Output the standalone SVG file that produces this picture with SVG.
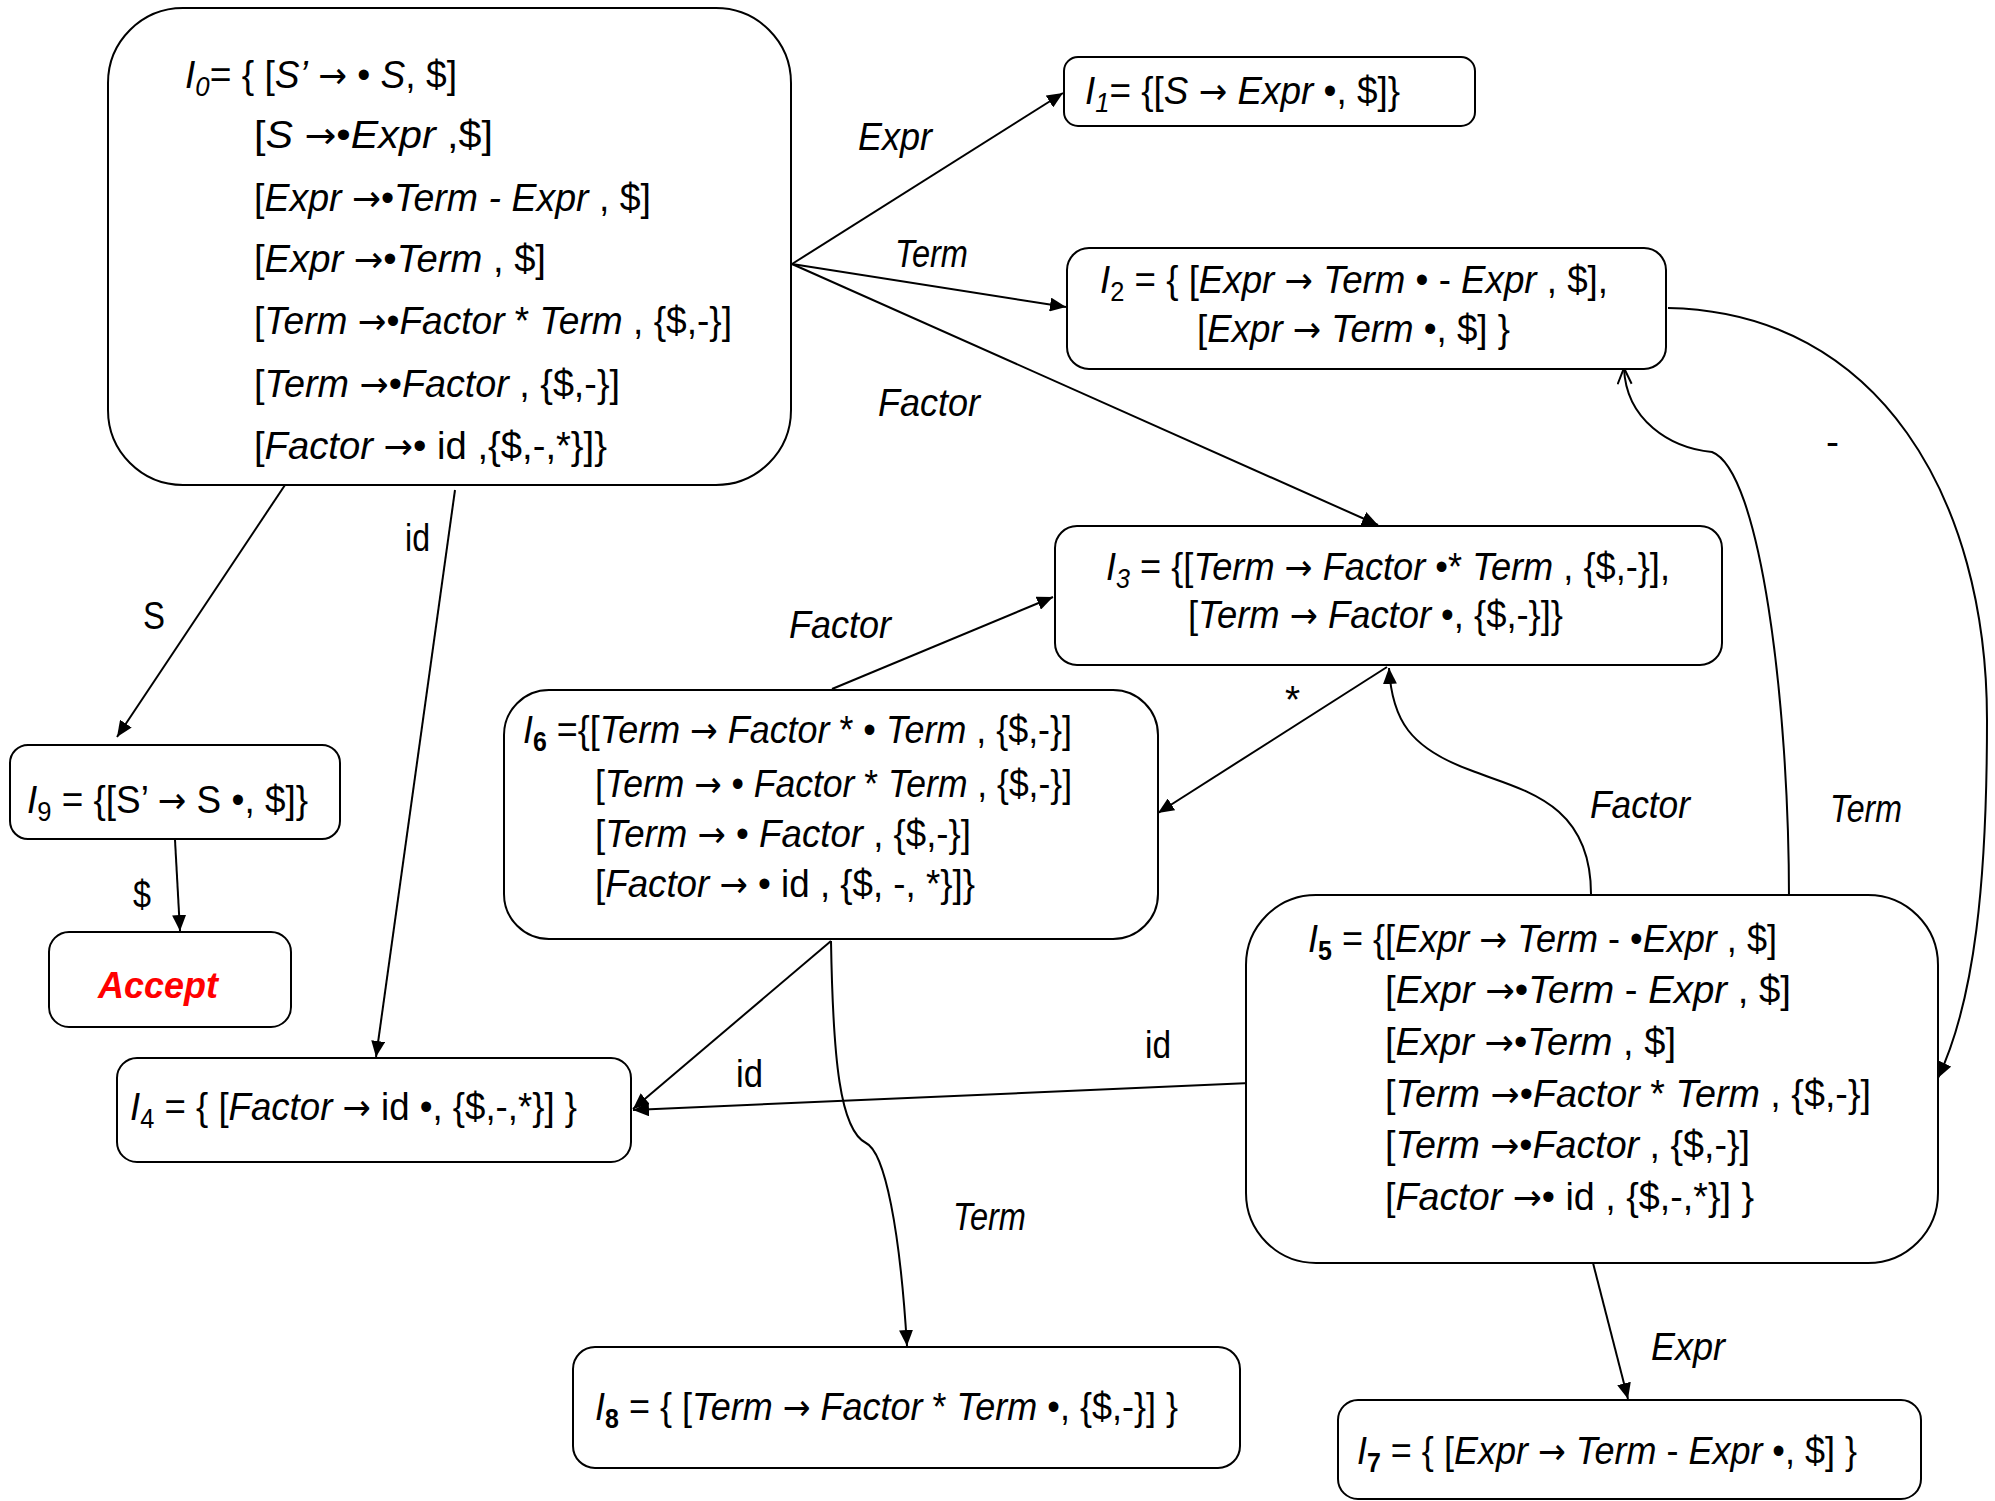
<svg xmlns="http://www.w3.org/2000/svg" width="1995" height="1501" viewBox="0 0 1995 1501">
<style>
.box{fill:#fff;stroke:#000;stroke-width:2}
.t{font-family:"Liberation Sans",Arial,sans-serif;font-size:39px;fill:#000}
.i{font-style:italic}
.a{font-family:"DejaVu Sans",sans-serif;font-weight:normal;font-style:normal;font-size:36px}
.sub{font-size:27px}
.b{font-weight:bold}
.e{fill:none;stroke:#000;stroke-width:2}
.acc{font-family:"Liberation Sans",Arial,sans-serif;font-size:37px;font-weight:bold;font-style:italic;fill:#ff0000}
</style>
<defs>
<marker id="ah" viewBox="0 0 16 14" refX="16" refY="7" markerWidth="16" markerHeight="14" markerUnits="userSpaceOnUse" orient="auto"><path d="M0,0 L16,7 L0,14 z" fill="#000"/></marker>
<marker id="ao" viewBox="0 0 18 16" refX="17" refY="8" markerWidth="18" markerHeight="16" markerUnits="userSpaceOnUse" orient="auto"><path d="M1,1 L17,8 L1,15" fill="none" stroke="#000" stroke-width="2"/></marker>
</defs>
<rect width="1995" height="1501" fill="#fff"/>

<g id="connectors">
<path class="e" d="M792,264 L1063,93" marker-end="url(#ah)"/>
<path class="e" d="M792,264 L1066,307" marker-end="url(#ah)"/>
<path class="e" d="M792,264 L1378,525" marker-end="url(#ah)"/>
<path class="e" d="M285,485 L117,737" marker-end="url(#ah)"/>
<path class="e" d="M455,490 L376,1057" marker-end="url(#ah)"/>
<path class="e" d="M175,840 L180,931" marker-end="url(#ah)"/>
<path class="e" d="M832,689 L1053,597" marker-end="url(#ah)"/>
<path class="e" d="M1387,667 L1158,813" marker-end="url(#ah)"/>
<path class="e" d="M831,941 L633,1109" marker-end="url(#ah)"/>
<path class="e" d="M1250,1083 L633,1110" marker-end="url(#ah)"/>
<path class="e" d="M831,941 C833,1060 840,1130 866,1143 C885,1152 900,1230 907,1346" marker-end="url(#ah)"/>
<path class="e" d="M1591,894 C1591,800 1520,790 1470,770 C1410,748 1392,720 1389,668" marker-end="url(#ah)"/>
<path class="e" d="M1789,899 C1789,700 1760,470 1712,452 C1670,448 1626,420 1624,368" marker-end="url(#ao)"/>
<path class="e" d="M1668,308 C1880,312 1987,500 1987,720 C1987,880 1975,1000 1938,1078" marker-end="url(#ah)"/>
<path class="e" d="M1593,1263 L1628,1399" marker-end="url(#ah)"/>

<text class="t i" x="858" y="150" textLength="74" lengthAdjust="spacingAndGlyphs">Expr</text>
<text class="t i" x="895" y="267" textLength="73" lengthAdjust="spacingAndGlyphs">Term</text>
<text class="t i" x="878" y="416" textLength="102" lengthAdjust="spacingAndGlyphs">Factor</text>
<text class="t" x="143" y="629" textLength="22" lengthAdjust="spacingAndGlyphs">S</text>
<text class="t" x="405" y="551" textLength="25" lengthAdjust="spacingAndGlyphs">id</text>
<text class="t" x="133" y="908" textLength="18" lengthAdjust="spacingAndGlyphs">$</text>
<text class="t i" x="789" y="638" textLength="102" lengthAdjust="spacingAndGlyphs">Factor</text>
<text class="t" x="1285" y="713">*</text>
<text class="t" x="736" y="1087" textLength="27" lengthAdjust="spacingAndGlyphs">id</text>
<text class="t" x="1145" y="1058" textLength="26" lengthAdjust="spacingAndGlyphs">id</text>
<text class="t i" x="953" y="1230" textLength="73" lengthAdjust="spacingAndGlyphs">Term</text>
<text class="t" x="1826" y="455">-</text>
<text class="t i" x="1590" y="818" textLength="100" lengthAdjust="spacingAndGlyphs">Factor</text>
<text class="t i" x="1830" y="822" textLength="72" lengthAdjust="spacingAndGlyphs">Term</text>
<text class="t i" x="1651" y="1360" textLength="74" lengthAdjust="spacingAndGlyphs">Expr</text>
</g>

<g id="I0">
<rect class="box" x="108" y="8" width="683" height="477" rx="75" ry="75"/>
<text class="t" x="185" y="88" textLength="272" lengthAdjust="spacingAndGlyphs"><tspan class="i">I</tspan><tspan class="i sub" dy="8">0</tspan><tspan dy="-8">= { [</tspan><tspan class="i">S’</tspan> <tspan class="a">→</tspan> • <tspan class="i">S</tspan>, $]</text>
<text class="t" x="254" y="148" textLength="239" lengthAdjust="spacingAndGlyphs">[<tspan class="i">S</tspan>  <tspan class="a">→</tspan>•<tspan class="i">Expr</tspan> ,$]</text>
<text class="t" x="254" y="211" textLength="397" lengthAdjust="spacingAndGlyphs">[<tspan class="i">Expr</tspan> <tspan class="a">→</tspan>•<tspan class="i">Term - Expr</tspan> , $]</text>
<text class="t" x="254" y="272" textLength="292" lengthAdjust="spacingAndGlyphs">[<tspan class="i">Expr</tspan> <tspan class="a">→</tspan>•<tspan class="i">Term</tspan> , $]</text>
<text class="t" x="254" y="334" textLength="478" lengthAdjust="spacingAndGlyphs">[<tspan class="i">Term</tspan> <tspan class="a">→</tspan>•<tspan class="i">Factor</tspan> * <tspan class="i">Term</tspan> , {$,-}]</text>
<text class="t" x="254" y="397" textLength="366" lengthAdjust="spacingAndGlyphs">[<tspan class="i">Term</tspan> <tspan class="a">→</tspan>•<tspan class="i">Factor</tspan> , {$,-}]</text>
<text class="t" x="254" y="459" textLength="353" lengthAdjust="spacingAndGlyphs">[<tspan class="i">Factor</tspan> <tspan class="a">→</tspan>• id ,{$,-,*}]}</text>
</g>

<g id="I1">
<rect class="box" x="1064" y="57" width="411" height="69" rx="14" ry="14"/>
<text class="t" x="1085" y="104" textLength="315" lengthAdjust="spacingAndGlyphs"><tspan class="i">I</tspan><tspan class="i sub" dy="8">1</tspan><tspan dy="-8">= {[</tspan><tspan class="i">S</tspan> <tspan class="a">→</tspan> <tspan class="i">Expr</tspan> •, $]}</text>
</g>

<g id="I2">
<rect class="box" x="1067" y="248" width="599" height="121" rx="22" ry="22"/>
<text class="t" x="1100" y="293" textLength="508" lengthAdjust="spacingAndGlyphs"><tspan class="i">I</tspan><tspan class="sub" dy="8">2</tspan><tspan dy="-8"> = { [</tspan><tspan class="i">Expr</tspan> <tspan class="a">→</tspan> <tspan class="i">Term</tspan> • - <tspan class="i">Expr</tspan> , $],</text>
<text class="t" x="1197" y="342" textLength="313" lengthAdjust="spacingAndGlyphs">[<tspan class="i">Expr</tspan> <tspan class="a">→</tspan> <tspan class="i">Term</tspan> •, $] }</text>
</g>

<g id="I3">
<rect class="box" x="1055" y="526" width="667" height="139" rx="22" ry="22"/>
<text class="t" x="1106" y="580" textLength="564" lengthAdjust="spacingAndGlyphs"><tspan class="i">I</tspan><tspan class="i sub" dy="8">3</tspan><tspan dy="-8"> = {[</tspan><tspan class="i">Term</tspan> <tspan class="a">→</tspan> <tspan class="i">Factor</tspan> •* <tspan class="i">Term</tspan> , {$,-}],</text>
<text class="t" x="1188" y="628" textLength="375" lengthAdjust="spacingAndGlyphs">[<tspan class="i">Term</tspan> <tspan class="a">→</tspan> <tspan class="i">Factor</tspan> •, {$,-}]}</text>
</g>

<g id="I6">
<rect class="box" x="504" y="690" width="654" height="249" rx="45" ry="45"/>
<text class="t" x="523" y="743" textLength="549" lengthAdjust="spacingAndGlyphs"><tspan class="i">I</tspan><tspan class="sub b" dy="8">6</tspan><tspan dy="-8"> ={[</tspan><tspan class="i">Term</tspan> <tspan class="a">→</tspan> <tspan class="i">Factor</tspan> * • <tspan class="i">Term</tspan> , {$,-}]</text>
<text class="t" x="595" y="797" textLength="477" lengthAdjust="spacingAndGlyphs">[<tspan class="i">Term</tspan> <tspan class="a">→</tspan> • <tspan class="i">Factor</tspan> * <tspan class="i">Term</tspan> , {$,-}]</text>
<text class="t" x="595" y="847" textLength="376" lengthAdjust="spacingAndGlyphs">[<tspan class="i">Term</tspan> <tspan class="a">→</tspan> • <tspan class="i">Factor</tspan> , {$,-}]</text>
<text class="t" x="595" y="897" textLength="380" lengthAdjust="spacingAndGlyphs">[<tspan class="i">Factor</tspan> <tspan class="a">→</tspan> • id , {$, -, *}]}</text>
</g>

<g id="I9">
<rect class="box" x="10" y="745" width="330" height="94" rx="18" ry="18"/>
<text class="t" x="27" y="813" textLength="281" lengthAdjust="spacingAndGlyphs"><tspan class="i">I</tspan><tspan class="sub" dy="8">9</tspan><tspan dy="-8"> = {[S’ </tspan><tspan class="a">→</tspan> S •, $]}</text>
</g>

<g id="Accept">
<rect class="box" x="49" y="932" width="242" height="95" rx="20" ry="20"/>
<text class="acc" x="98" y="998" textLength="120" lengthAdjust="spacingAndGlyphs">Accept</text>
</g>

<g id="I4">
<rect class="box" x="117" y="1058" width="514" height="104" rx="20" ry="20"/>
<text class="t" x="130" y="1120" textLength="447" lengthAdjust="spacingAndGlyphs"><tspan class="i">I</tspan><tspan class="sub" dy="8">4</tspan><tspan dy="-8"> = { [</tspan><tspan class="i">Factor</tspan> <tspan class="a">→</tspan> id •, {$,-,*}] }</text>
</g>

<g id="I5">
<rect class="box" x="1246" y="895" width="692" height="368" rx="70" ry="70"/>
<text class="t" x="1308" y="952" textLength="469" lengthAdjust="spacingAndGlyphs"><tspan class="i">I</tspan><tspan class="sub b" dy="8">5</tspan><tspan dy="-8"> = {[</tspan><tspan class="i">Expr</tspan> <tspan class="a">→</tspan> <tspan class="i">Term</tspan> - •<tspan class="i">Expr</tspan> , $]</text>
<text class="t" x="1385" y="1003" textLength="406" lengthAdjust="spacingAndGlyphs">[<tspan class="i">Expr</tspan>  <tspan class="a">→</tspan>•<tspan class="i">Term</tspan> - <tspan class="i">Expr</tspan> , $]</text>
<text class="t" x="1385" y="1055" textLength="291" lengthAdjust="spacingAndGlyphs">[<tspan class="i">Expr</tspan> <tspan class="a">→</tspan>•<tspan class="i">Term</tspan> , $]</text>
<text class="t" x="1385" y="1107" textLength="486" lengthAdjust="spacingAndGlyphs">[<tspan class="i">Term</tspan>  <tspan class="a">→</tspan>•<tspan class="i">Factor</tspan> * <tspan class="i">Term</tspan> , {$,-}]</text>
<text class="t" x="1385" y="1158" textLength="365" lengthAdjust="spacingAndGlyphs">[<tspan class="i">Term</tspan> <tspan class="a">→</tspan>•<tspan class="i">Factor</tspan> , {$,-}]</text>
<text class="t" x="1385" y="1210" textLength="369" lengthAdjust="spacingAndGlyphs">[<tspan class="i">Factor</tspan> <tspan class="a">→</tspan>• id , {$,-,*}] }</text>
</g>

<g id="I8">
<rect class="box" x="573" y="1347" width="667" height="121" rx="22" ry="22"/>
<text class="t" x="595" y="1420" textLength="583" lengthAdjust="spacingAndGlyphs"><tspan class="i">I</tspan><tspan class="sub b" dy="8">8</tspan><tspan dy="-8"> = { [</tspan><tspan class="i">Term</tspan> <tspan class="a">→</tspan> <tspan class="i">Factor</tspan> * <tspan class="i">Term</tspan> •, {$,-}] }</text>
</g>

<g id="I7">
<rect class="box" x="1338" y="1400" width="583" height="99" rx="20" ry="20"/>
<text class="t" x="1357" y="1464" textLength="500" lengthAdjust="spacingAndGlyphs"><tspan class="i">I</tspan><tspan class="sub b" dy="8">7</tspan><tspan dy="-8"> = { [</tspan><tspan class="i">Expr</tspan> <tspan class="a">→</tspan> <tspan class="i">Term</tspan> - <tspan class="i">Expr</tspan> •, $] }</text>
</g>
</svg>
